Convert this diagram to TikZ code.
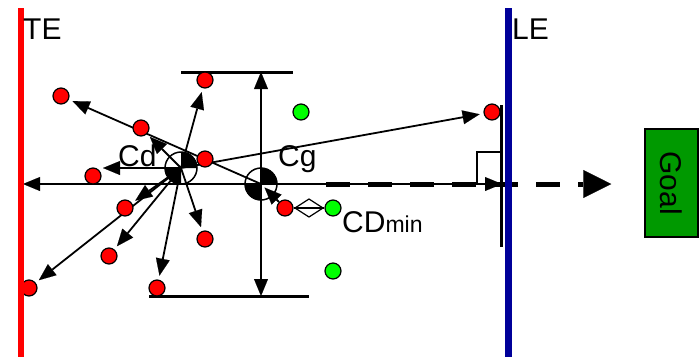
\documentclass[tikz,border=0pt]{standalone}
\usepackage{fontspec}
\setmainfont{Liberation Sans}
\usetikzlibrary{arrows.meta}
\definecolor{dotred}{RGB}{255,0,0}
\definecolor{dotgreen}{RGB}{0,255,0}
\definecolor{lenavy}{RGB}{0,0,153}
\definecolor{goalgreen}{RGB}{0,153,0}
\pgfdeclarelayer{bg}
\pgfdeclarelayer{top}
\pgfsetlayers{bg,main,top}
\begin{document}
\begin{tikzpicture}[x=1bp,y=-1bp,
  dotr/.style={circle,draw=black,line width=1.2bp,fill=dotred,minimum size=16bp,inner sep=0pt},
  dotg/.style={dotr,fill=dotgreen},
  tipA/.tip={Triangle[length=17bp,width=14bp,line width=0.1bp]},
  arr/.style={line width=1.8bp,-tipA,shorten >=4bp},
  bigfont/.style={font=\fontsize{30bp}{36bp}\selectfont},
  lbl/.style={inner sep=0pt,anchor=base west,bigfont},
  symline/.style={line width=1.5bp}
]
\useasboundingbox (0,0) rectangle (700,357);

% centre symbols
\coordinate (cd) at (181,168);
\coordinate (cg) at (261,184);

% dots
\node[dotr] (r1) at (61,96) {};
\node[dotr] (r2) at (205,80) {};
\node[dotr] (r3) at (141,128) {};
\node[dotr] (r4) at (205,159) {};
\node[dotr] (r5) at (93,176) {};
\node[dotr] (r6) at (125,208) {};
\node[dotr] (r7) at (109,256) {};
\node[dotr] (r8) at (29,288) {};
\node[dotr] (r9) at (157,288) {};
\node[dotr] (r10) at (205,239) {};
\node[dotr] (r11) at (285,208) {};
\node[dotr] (r12) at (492,112) {};
\node[dotg] (g1) at (301,112) {};
\node[dotg] (g2) at (333,208) {};
\node[dotg] (g3) at (333,271) {};

% goal
\node[draw,fill=goalgreen,line width=1.5bp,rotate=-90,minimum width=108bp,minimum height=53bp,inner sep=0pt,bigfont] (goal) at (671.5,183) {Goal};

% coordinates for free ends
\coordinate (barTop) at (261,72);
\coordinate (barBot) at (261,296);
\coordinate (teAxis) at (23,184);
\coordinate (leAxis) at (502,184);
\coordinate (cdLeft) at (103,168);

\begin{pgfonlayer}{bg}
\foreach \c in {cd,cg}{
  \fill (\c) -- ++(16,0) arc[start angle=0,end angle=-90,radius=16] -- cycle;
  \fill (\c) -- ++(-16,0) arc[start angle=180,end angle=90,radius=16] -- cycle;
  \draw[symline] (\c) circle[radius=16];
}
% bars
\draw[line width=3bp] (181,72) -- (293,72);
\draw[line width=3bp] (149,296) -- (309,296);
\draw[line width=3bp] (501,105) -- (501,247);
\draw[line width=1.5bp] (477,184) -- (477,152) -- (501,152);

% axis lines
\draw[line width=5bp,dash pattern=on 24bp off 18bp,-{Triangle[length=28bp,width=28bp,line width=0.1bp]},shorten <=65bp,shorten >=33bp] (cg) -- (cg -| goal.south);
\draw[line width=1.8bp,tipA-tipA] (teAxis) -- (leAxis);
\draw[line width=1.8bp,tipA-tipA] (barTop) -- (barBot);

% arrows from Cd / Cg
\draw[arr,shorten >=0bp] (cd) -- (cdLeft);
\draw[arr] (cd) -- (r3);
\draw[arr] (cd) -- (r2);
\draw[arr] (cd) -- (r6);
\draw[arr] (cd) -- (r8);
\draw[arr] (cd) -- (r7);
\draw[arr] (cd) -- (r9);
\draw[arr] (cd) -- (r10);
\draw[arr] (cd) -- (r12);
\draw[arr] (cg) -- (r1);
\draw[arr,shorten >=5bp] (r11) -- (cg);

% CDmin double arrow
\draw[line width=1.2bp] (r11) -- (g2);
\draw[line width=1.2bp,line join=miter] (295,208) -- (309,199) -- (323,208) -- (309,217) -- cycle;
\end{pgfonlayer}

\begin{pgfonlayer}{top}
% TE / LE lines
\draw[line width=6bp,dotred] (21,8) -- (21,357);
\draw[line width=7bp,lenavy] (508.5,8) -- (508.5,357);

% labels
\node[lbl] (te) at (23,39) {TE};
\node[lbl] (le) at (512,39) {LE};
\node[lbl] (cdl) at (118,166) {Cd};
\node[lbl] (cgl) at (278,166) {Cg};
\node[lbl] (cdmin) at (342,232) {CD\fontsize{23bp}{28bp}\selectfont min};
\end{pgfonlayer}
\end{tikzpicture}
\end{document}
